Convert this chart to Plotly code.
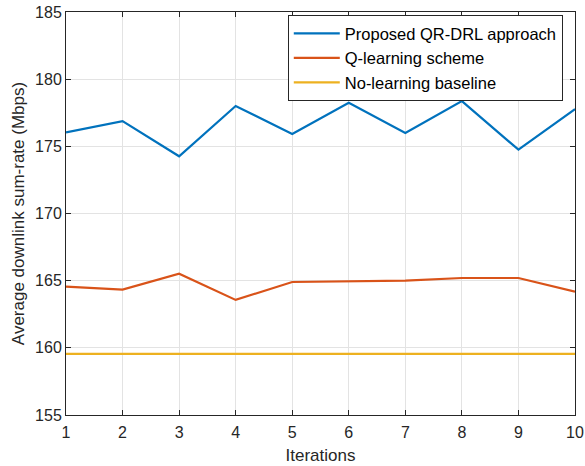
import plotly.graph_objects as go

iterations = [1, 2, 3, 4, 5, 6, 7, 8, 9, 10]
qr_drl = [176.04, 176.88, 174.26, 178.0, 175.92, 178.24, 176.0, 178.37, 174.75, 177.77]
q_learning = [164.55, 164.33, 165.52, 163.57, 164.9, 164.93, 165.0, 165.2, 165.2, 164.18]
no_learning = [159.55] * 10

names = ["Proposed QR-DRL approach", "Q-learning scheme", "No-learning baseline"]
colors = ["#0072BD", "#D95319", "#EDB120"]

fig = go.Figure()
for ys, name, c in zip([qr_drl, q_learning, no_learning], names, colors):
    fig.add_trace(go.Scatter(x=iterations, y=ys, mode="lines", name=name,
                             line=dict(color=c, width=2.2)))

font = "Liberation Sans, Arial, sans-serif"
axis_common = dict(
    showline=True, linecolor="#262626", linewidth=1, mirror="ticks",
    ticks="inside", ticklen=5, tickcolor="#262626",
    showgrid=True, gridcolor="#e3e3e3", gridwidth=1,
    zeroline=False, tickfont=dict(family=font, size=16, color="#262626"),
)
fig.update_xaxes(range=[1, 10], tickvals=iterations, **axis_common, ticklabelstandoff=3,
                 title=dict(text="Iterations", font=dict(family=font, size=17, color="#262626"), standoff=8))
fig.update_yaxes(range=[155, 185], tickvals=[155, 160, 165, 170, 175, 180, 185], **axis_common,
                 title=dict(text="Average downlink sum-rate (Mbps)", font=dict(family=font, size=17, color="#262626"), standoff=6))

fig.update_layout(
    width=585, height=466,
    margin=dict(l=66, r=10, t=12, b=51, autoexpand=False),
    paper_bgcolor="white", plot_bgcolor="white",
    font=dict(family=font, color="#262626"),
    showlegend=True,
    legend=dict(x=0.976, y=0.992, xanchor="right", yanchor="top",
                bgcolor="white", bordercolor="#262626", borderwidth=1,
                font=dict(family=font, size=16.5, color="#000000"),
                tracegroupgap=0, itemwidth=46),
)
fig.write_html("out.html", config={"displayModeBar": False},
               post_script="document.body.style.margin='0';document.body.style.overflow='hidden';")
